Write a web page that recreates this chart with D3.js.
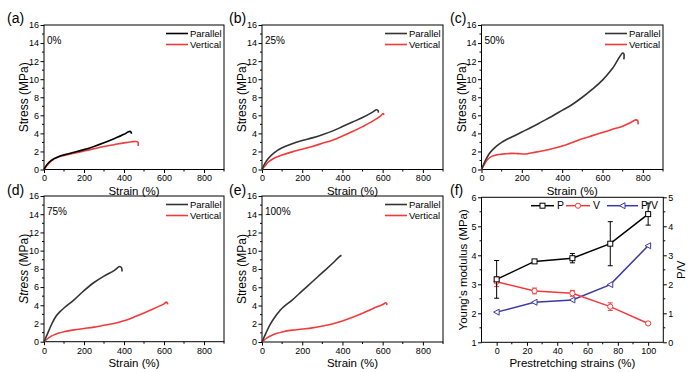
<!DOCTYPE html>
<html>
<head>
<meta charset="utf-8">
<script src="https://cdn.jsdelivr.net/npm/d3@7"></script>
<style>
  body { margin: 0; background: #fff; }
  svg text { font-family: Arial, "Liberation Sans", sans-serif !important; font-weight: normal; fill: #000; }
</style>
</head>
<body>
<svg id="fig" width="695" height="372"></svg>
<script>
// Stress-strain curves, [strain %, stress MPa]
var aParallel = [[0,0],[10,0.4],[25,0.8],[50,1.2],[75,1.45],[100,1.62],[150,1.9],[200,2.2],[250,2.55],[300,2.95],[350,3.4],[400,3.9],[420,4.15],[430,4.22],[436,4.1],[437,3.95]];
var aVertical = [[0,0],[25,0.7],[50,1.15],[75,1.4],[100,1.55],[150,1.8],[200,2.05],[250,2.3],[300,2.55],[350,2.75],[400,2.95],[440,3.07],[462,3.1],[470,3.02],[471,2.6]];
var bParallel = [[0,0],[15,0.7],[30,1.2],[60,1.85],[100,2.4],[150,2.85],[200,3.2],[250,3.5],[300,3.85],[350,4.25],[400,4.75],[450,5.25],[500,5.75],[550,6.35],[570,6.62],[578,6.5],[578,6.3]];
var bVertical = [[0,0],[15,0.4],[30,0.8],[60,1.25],[100,1.6],[150,1.95],[200,2.25],[250,2.55],[300,2.9],[350,3.25],[400,3.7],[450,4.2],[500,4.75],[550,5.35],[590,5.95],[603,6.2],[606,6.05]];
var cParallel = [[0,0],[15,0.8],[40,1.8],[70,2.5],[100,3.0],[150,3.6],[200,4.15],[250,4.7],[300,5.3],[350,5.9],[400,6.55],[450,7.2],[500,8.0],[550,8.9],[600,9.9],[650,11.2],[700,12.9],[706,12.8],[706,12.2]];
var cVertical = [[0,0],[15,0.6],[30,1.1],[50,1.45],[75,1.62],[100,1.7],[150,1.78],[180,1.76],[220,1.72],[250,1.85],[300,2.05],[350,2.3],[400,2.6],[450,3.0],[500,3.4],[550,3.75],[600,4.1],[650,4.45],[700,4.8],[740,5.2],[765,5.5],[775,5.4],[776,5.0]];
var dParallel = [[0,0],[20,1.0],[40,2.0],[60,2.8],[80,3.3],[100,3.7],[150,4.6],[200,5.6],[250,6.5],[300,7.2],[350,7.8],[378,8.25],[388,8.1],[390,7.7]];
var dVertical = [[0,0],[25,0.45],[50,0.75],[75,0.95],[100,1.1],[150,1.3],[200,1.45],[250,1.6],[300,1.8],[350,2.0],[400,2.3],[450,2.7],[500,3.15],[550,3.65],[600,4.15],[612,4.35],[618,4.2],[618,4.1]];
var eParallel = [[0,0],[20,1.0],[40,1.9],[60,2.6],[80,3.2],[100,3.7],[150,4.6],[200,5.6],[250,6.6],[300,7.6],[350,8.6],[385,9.35],[395,9.5]];
var eVertical = [[0,0],[25,0.45],[50,0.75],[75,0.95],[100,1.1],[150,1.3],[200,1.42],[250,1.55],[300,1.75],[350,1.98],[400,2.3],[450,2.7],[500,3.15],[550,3.65],[600,4.1],[615,4.3],[620,4.2],[620,4.05]];

var prestrainLabels = ["0%", "25%", "50%", "75%", "100%"];
var strainTicks = [0, 200, 400, 600, 800];
var stressTicks = [0, 2, 4, 6, 8, 10, 12, 14, 16];

// Panel f
var prestrain = [0, 25, 50, 75, 100];
var pModulus = [3.17, 3.79, 3.9, 4.4, 5.42];
var pErr = [0.65, 0.03, 0.16, 0.76, 0.38];
var vModulus = [3.09, 2.77, 2.69, 2.23, 1.65];
var vErr = [0.17, 0.1, 0.1, 0.13, 0.04];
var pvRatio = [1.04, 1.38, 1.46, 1.99, 3.33];

var svg = d3.select("#fig");
var red = "#f23a3a", navy = "#3a3aa6";

var panels = [
	{ tag: "(a)", note: prestrainLabels[0], par: aParallel, ver: aVertical, parColor: "#000", x: [44, 224], y: [169.5, 25], lx: 7, ly: 23 },
	{ tag: "(b)", note: prestrainLabels[1], par: bParallel, ver: bVertical, parColor: "#333", x: [262, 443], y: [169.5, 25], lx: 229, ly: 23 },
	{ tag: "(c)", note: prestrainLabels[2], par: cParallel, ver: cVertical, parColor: "#333", x: [481.5, 663], y: [169.5, 25], lx: 450, ly: 23 },
	{ tag: "(d)", note: prestrainLabels[3], par: dParallel, ver: dVertical, parColor: "#333", x: [44, 224], y: [341.7, 196], lx: 7, ly: 195, italic: true },
	{ tag: "(e)", note: prestrainLabels[4], par: eParallel, ver: eVertical, parColor: "#333", x: [262, 443], y: [342, 196], lx: 229, ly: 195 }
];

function frame(g, x, y) {
	g.append("rect")
		.attr("x", x.range()[0]).attr("y", y.range()[1])
		.attr("width", x.range()[1] - x.range()[0])
		.attr("height", y.range()[0] - y.range()[1])
		.attr("fill", "none").attr("stroke", "#000").attr("stroke-width", 1);
}

function styleAxis(a) {
	a.select(".domain").remove();
	a.selectAll("text").attr("font-size", 9);
	a.selectAll("line").attr("stroke", "#000");
}

function minorTicks(g, scale, vals, orient, pos) {
	vals.forEach(function (v) {
		var p = scale(v);
		if (orient == "bottom") g.append("line").attr("x1", p).attr("x2", p).attr("y1", pos).attr("y2", pos + 2).attr("stroke", "#000");
		if (orient == "left") g.append("line").attr("y1", p).attr("y2", p).attr("x1", pos).attr("x2", pos - 2).attr("stroke", "#000");
		if (orient == "right") g.append("line").attr("y1", p).attr("y2", p).attr("x1", pos).attr("x2", pos + 2).attr("stroke", "#000");
	});
}

var line = d3.line().curve(d3.curveCatmullRom.alpha(0.5));

panels.forEach(function (p) {
	var g = svg.append("g");
	var x = d3.scaleLinear().domain([0, 900]).range(p.x);
	var y = d3.scaleLinear().domain([0, 16]).range(p.y);
	var bottom = p.y[0], top = p.y[1], left = p.x[0], right = p.x[1];

	g.append("g").attr("transform", "translate(0," + bottom + ")")
		.call(d3.axisBottom(x).tickValues(strainTicks).tickSize(3.5).tickPadding(2))
		.call(styleAxis);
	g.append("g").attr("transform", "translate(" + left + ",0)")
		.call(d3.axisLeft(y).tickValues(stressTicks).tickSize(3.5).tickPadding(1.5))
		.call(styleAxis);
	minorTicks(g, x, [100, 300, 500, 700, 900], "bottom", bottom);
	minorTicks(g, y, [1, 3, 5, 7, 9, 11, 13, 15], "left", left);
	frame(g, x, y);

	g.append("path").datum(p.ver.map(function (d) { return [x(d[0]), y(d[1])]; }))
		.attr("d", line).attr("fill", "none").attr("stroke", red).attr("stroke-width", 1.6);
	g.append("path").datum(p.par.map(function (d) { return [x(d[0]), y(d[1])]; }))
		.attr("d", line).attr("fill", "none").attr("stroke", p.parColor).attr("stroke-width", 1.6);

	// legend
	[["Parallel", p.parColor], ["Vertical", red]].forEach(function (l, i) {
		var ly = top + 8.5 + i * 11;
		g.append("line").attr("x1", right - 58).attr("x2", right - 36).attr("y1", ly).attr("y2", ly)
			.attr("stroke", l[1]).attr("stroke-width", 1.6);
		g.append("text").attr("x", right - 34).attr("y", ly).attr("dy", "0.35em")
			.attr("font-size", 9.5).text(l[0]);
	});

	g.append("text").attr("x", left + 3).attr("y", top + 15).attr("dy", "0.35em")
		.attr("font-size", 10).text(p.note);

	g.append("text").attr("x", p.lx).attr("y", p.ly).attr("font-size", 14).text(p.tag);

	g.append("text").attr("x", (left + right) / 2).attr("y", bottom + 21).attr("dy", "0.35em")
		.attr("text-anchor", "middle").attr("font-size", 11.5).text("Strain (%)");

	var yt = g.append("text")
		.attr("transform", "translate(" + (left - 20) + "," + ((top + bottom) / 2) + ") rotate(-90)")
		.attr("text-anchor", "middle").attr("dy", "0.35em").attr("font-size", 12);
	if (p.italic) {
		yt.append("tspan").attr("font-style", "italic").text("Stress");
		yt.append("tspan").text(" (MPa)");
	} else {
		yt.text("Stress (MPa)");
	}
});

// Panel (f)
(function () {
	var g = svg.append("g");
	var left = 481.5, right = 663.3, top = 197.3, bottom = 342.3;
	var x = d3.scaleLinear().domain([-10, 110]).range([left, right]);
	var yL = d3.scaleLinear().domain([1, 6]).range([bottom, top]);
	var yR = d3.scaleLinear().domain([0, 5]).range([bottom, top]);
	var fmt = d3.format("d");

	g.append("g").attr("transform", "translate(0," + bottom + ")")
		.call(d3.axisBottom(x).tickValues([0, 20, 40, 60, 80, 100]).tickFormat(fmt).tickSize(3.5).tickPadding(2))
		.call(styleAxis);
	g.append("g").attr("transform", "translate(" + left + ",0)")
		.call(d3.axisLeft(yL).tickValues([1, 2, 3, 4, 5, 6]).tickFormat(fmt).tickSize(3.5).tickPadding(1.5))
		.call(styleAxis);
	g.append("g").attr("transform", "translate(" + right + ",0)")
		.call(d3.axisRight(yR).tickValues([0, 1, 2, 3, 4, 5]).tickFormat(fmt).tickSize(3.5).tickPadding(1.5))
		.call(styleAxis);
	minorTicks(g, x, [10, 30, 50, 70, 90], "bottom", bottom);
	minorTicks(g, yL, [1.5, 2.5, 3.5, 4.5, 5.5], "left", left);
	minorTicks(g, yR, [0.5, 1.5, 2.5, 3.5, 4.5], "right", right);
	frame(g, x, yL);

	function series(vals, errs, scale, color, marker) {
		var pts = prestrain.map(function (s, i) { return [x(s), scale(vals[i])]; });
		g.append("path").datum(pts).attr("d", d3.line())
			.attr("fill", "none").attr("stroke", color).attr("stroke-width", 1.5);
		if (errs) {
			prestrain.forEach(function (s, i) {
				var cx = x(s), y1 = scale(vals[i] + errs[i]), y2 = scale(vals[i] - errs[i]);
				g.append("line").attr("x1", cx).attr("x2", cx).attr("y1", y1).attr("y2", y2).attr("stroke", color).attr("stroke-width", 1);
				[y1, y2].forEach(function (yy) {
					g.append("line").attr("x1", cx - 2.5).attr("x2", cx + 2.5).attr("y1", yy).attr("y2", yy).attr("stroke", color).attr("stroke-width", 1);
				});
			});
		}
		pts.forEach(function (pt) { marker(pt[0], pt[1], color); });
	}
	function square(cx, cy, c) {
		g.append("rect").attr("x", cx - 2.5).attr("y", cy - 2.5).attr("width", 5).attr("height", 5)
			.attr("fill", "#fff").attr("stroke", c).attr("stroke-width", 1);
	}
	function circle(cx, cy, c) {
		g.append("circle").attr("cx", cx).attr("cy", cy).attr("r", 2.6)
			.attr("fill", "#fff").attr("stroke", c).attr("stroke-width", 1);
	}
	function triangle(cx, cy, c) {
		g.append("path").attr("d", "M" + (cx - 3) + "," + cy + "L" + (cx + 2.5) + "," + (cy - 3) + "L" + (cx + 2.5) + "," + (cy + 3) + "Z")
			.attr("fill", "#fff").attr("stroke", c).attr("stroke-width", 1);
	}

	series(pvRatio, null, yR, navy, triangle);
	series(vModulus, vErr, yL, red, circle);
	series(pModulus, pErr, yL, "#000", square);

	// legend
	var ly = 205.7;
	[["P", "#000", square, 531, 554, 557], ["V", red, circle, 566, 590, 593], ["P/V", navy, triangle, 607, 638, 641]].forEach(function (l) {
		g.append("line").attr("x1", l[3]).attr("x2", l[4]).attr("y1", ly).attr("y2", ly).attr("stroke", l[1]).attr("stroke-width", 1.5);
		l[2]((l[3] + l[4]) / 2, ly, l[1]);
		g.append("text").attr("x", l[5]).attr("y", ly).attr("dy", "0.35em").attr("font-size", 10.5).text(l[0]);
	});

	g.append("text").attr("x", 450).attr("y", 195).attr("font-size", 14).text("(f)");
	g.append("text").attr("x", (left + right) / 2).attr("y", bottom + 21).attr("dy", "0.35em")
		.attr("text-anchor", "middle").attr("font-size", 11.5).text("Prestretching strains (%)");
	g.append("text")
		.attr("transform", "translate(" + (left - 19) + "," + ((top + bottom) / 2) + ") rotate(-90)")
		.attr("text-anchor", "middle").attr("dy", "0.35em").attr("font-size", 11.5).text("Young's modulus (MPa)");
	g.append("text")
		.attr("transform", "translate(" + (right + 18) + "," + ((top + bottom) / 2) + ") rotate(-90)")
		.attr("text-anchor", "middle").attr("dy", "0.35em").attr("font-size", 11.5).text("P/V");
})();
</script>
</body>
</html>
